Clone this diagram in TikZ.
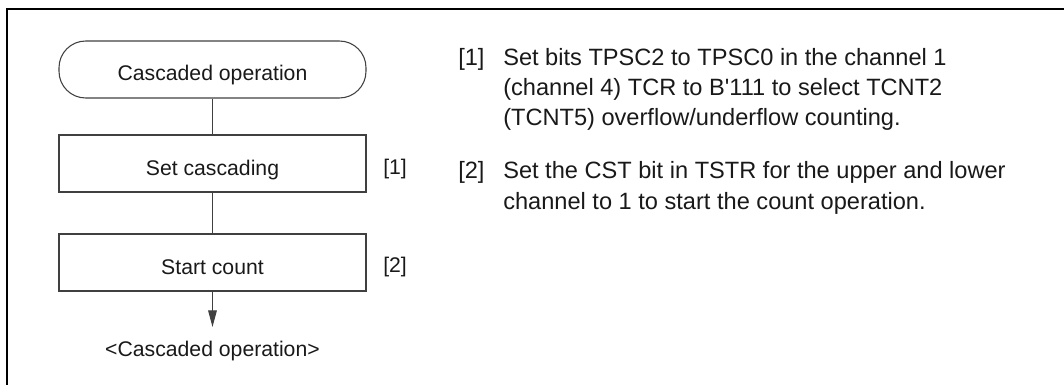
\documentclass[tikz,border=0pt]{standalone}
\usepackage{fontspec}
\setmainfont{Liberation Sans}
\newfontfamily\plainsans{Liberation Sans}
\usetikzlibrary{arrows.meta}
\begin{document}
\begin{tikzpicture}[x=0.75pt,y=-0.75pt,
  every node/.style={font=\fontsize{15.9pt}{19pt}\selectfont, text=black!90},
  flowbox/.style={draw=black!75, line width=0.8pt, minimum width=230.25pt, minimum height=42.75pt, inner sep=0pt, text height=17.25pt, text depth=0pt},
  termbox/.style={flowbox, rounded corners=20pt},
  flowline/.style={draw=black!75, line width=0.8pt},
  txt/.style={anchor=base west, inner sep=0pt},
  note/.style={txt, font=\fontsize{17.7pt}{21pt}\selectfont}
]
\useasboundingbox (0,0) rectangle (1064,385);
% frame
\draw[line width=1.8pt] (7,385) -- (7,9) -- (1064,9);
% flowchart
\node[termbox] (t) at (212.5,69.5) {Cascaded operation};
\node[flowbox] (b1) at (212.5,163.5) {Set cascading};
\node[flowbox] (b2) at (212.5,262.5) {Start count};
\coordinate (e) at (212.5,327);
\draw[flowline] (t) -- (b1);
\draw[flowline] (b1) -- (b2);
\draw[flowline, -{Triangle[length=12.5pt,width=6.5pt]}] (b2) -- (e);
\node[anchor=base, inner sep=0pt] (endl) at (212.5,356.5) {<Cascaded operation>};
\node[txt] (l1) at (383,174) {[1]};
\node[txt] (l2) at (383,272.5) {[2]};
% notes
\node[note] (n1) at (458,65) {[1]};
\node[note] (n1a) at (503,65) {Set bits TPSC2 to TPSC0 in the channel 1};
\node[note] (n1b) at (503,95.5) {(channel 4) TCR to B{\plainsans '}111 to select TCNT2};
\node[note] (n1c) at (503,126) {(TCNT5) overflow/underflow counting.};
\node[note] (n2) at (458,178) {[2]};
\node[note] (n2a) at (503,178) {Set the CST bit in TSTR for the upper and lower};
\node[note] (n2b) at (503,209) {channel to 1 to start the count operation.};
\end{tikzpicture}
\end{document}
